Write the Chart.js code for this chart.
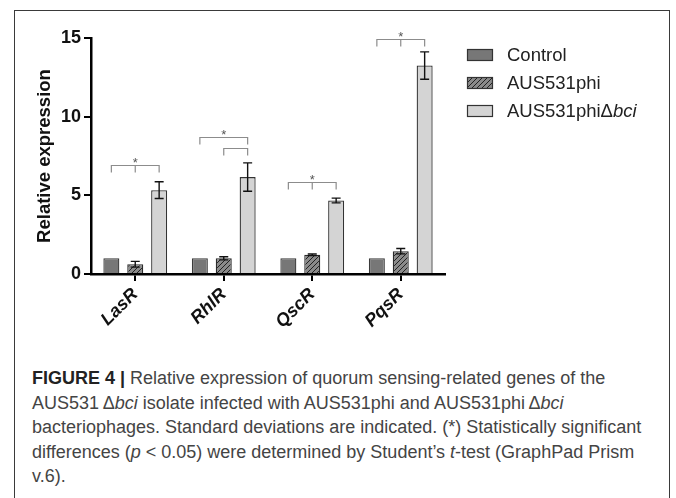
<!DOCTYPE html>
<html>
<head>
<meta charset="utf-8">
<script src="https://cdn.jsdelivr.net/npm/chart.js@4"></script>
<style>
  html, body { margin: 0; padding: 0; background: #fff; }
  body { width: 676px; height: 498px; position: relative; overflow: hidden; }
  #frame { position: absolute; left: 14px; top: 10px; width: 656px; height: 520px;
           border: 1.5px solid #3a3a3a; box-sizing: border-box; }
  #chart { position: absolute; left: 0; top: 0; }
  #caption { position: absolute; left: 32px; top: 366px; width: 640px;
             font-family: "Liberation Sans", Arial, sans-serif; font-size: 18px;
             line-height: 24.5px; color: #444; white-space: nowrap; }
  #caption b { color: #222; }
</style>
</head>
<body>
<div id="frame"></div>
<canvas id="chart" width="676" height="345"></canvas>
<div id="caption">
  <b>FIGURE 4 |</b> Relative expression of quorum sensing-related genes of the<br>
  AUS531&#8201;&Delta;<i>bci</i> isolate infected with AUS531phi and AUS531phi&#8201;&Delta;<i>bci</i><br>
  bacteriophages. Standard deviations are indicated. (*) Statistically significant<br>
  differences (<i>p</i> &lt; 0.05) were determined by Student’s <i>t</i>-test (GraphPad Prism<br>
  v.6).
</div>
<script>
// Données
const categories = ['LasR', 'RhlR', 'QscR', 'PqsR'];
const seriesNames = ['Control', 'AUS531phi', 'AUS531phi\u0394'];
const seriesItalic = ['', '', 'bci'];
const controlValues = [1, 1, 1, 1];
const controlSd = [0, 0, 0, 0];
const phiValues = [0.62, 1.0, 1.22, 1.45];
const phiSd = [0.18, 0.1, 0.05, 0.17];
const bciValues = [5.33, 6.16, 4.67, 13.25];
const bciSd = [0.53, 0.9, 0.15, 0.87];
const yTicks = [0, 5, 10, 15];

// Crochets de significativité : catégorie, série de départ, série d'arrivée, niveau
const bracketCats = [0, 1, 1, 2, 3];
const bracketFrom = [0, 0, 1, 0, 0];
const bracketTo = [2, 2, 2, 2, 2];
const bracketLevel = [6.95, 8.7, 8.04, 5.84, 14.95];
const bracketMid = [true, false, false, true, true];
const bracketStar = [true, true, false, true, true];

// Motif hachuré pour AUS531phi
function makeHatch() {
    const c = document.createElement('canvas');
    c.width = 5; c.height = 5;
    const g = c.getContext('2d');
    g.fillStyle = '#8a8a8a';
    g.fillRect(0, 0, 5, 5);
    g.strokeStyle = '#222';
    g.lineWidth = 1;
    g.beginPath();
    g.moveTo(0, 5); g.lineTo(5, 0);
    g.moveTo(-1, 1); g.lineTo(1, -1);
    g.moveTo(4, 6); g.lineTo(6, 4);
    g.stroke();
    return g.createPattern(c, 'repeat');
}

const sdList = [controlSd, phiSd, bciSd];

// Barres d'erreur
const errorBars = {
    id: 'errorBars',
    afterDatasetsDraw(chart) {
        const ctx = chart.ctx;
        const y = chart.scales.y;
        ctx.save();
        ctx.strokeStyle = '#111';
        ctx.lineWidth = 1.4;
        chart.data.datasets.forEach((ds, i) => {
            const meta = chart.getDatasetMeta(i);
            meta.data.forEach((bar, j) => {
                const sd = sdList[i][j];
                if (!sd) return;
                const v = ds.data[j];
                const top = y.getPixelForValue(v + sd);
                const bot = y.getPixelForValue(v - sd);
                const half = 4.5;
                ctx.beginPath();
                ctx.moveTo(bar.x, top); ctx.lineTo(bar.x, bot);
                ctx.moveTo(bar.x - half, top); ctx.lineTo(bar.x + half, top);
                ctx.moveTo(bar.x - half, bot); ctx.lineTo(bar.x + half, bot);
                ctx.stroke();
            });
        });
        ctx.restore();
    }
};

// Crochets + étoiles
const sigBrackets = {
    id: 'sigBrackets',
    afterDraw(chart) {
        const ctx = chart.ctx;
        const y = chart.scales.y;
        ctx.save();
        ctx.strokeStyle = '#8c8c8c';
        ctx.lineWidth = 1.2;
        ctx.fillStyle = '#555';
        ctx.font = '13px "Liberation Sans", Arial, sans-serif';
        ctx.textAlign = 'center';
        ctx.textBaseline = 'alphabetic';
        bracketCats.forEach((cat, k) => {
            const x1 = chart.getDatasetMeta(bracketFrom[k]).data[cat].x;
            const x2 = chart.getDatasetMeta(bracketTo[k]).data[cat].x;
            const yy = Math.round(y.getPixelForValue(bracketLevel[k])) + 0.5;
            const drop = 7;
            ctx.beginPath();
            ctx.moveTo(x1, yy + drop); ctx.lineTo(x1, yy);
            ctx.lineTo(x2, yy); ctx.lineTo(x2, yy + drop);
            if (bracketMid[k]) {
                const xm = (x1 + x2) / 2;
                ctx.moveTo(xm, yy); ctx.lineTo(xm, yy + drop);
            }
            ctx.stroke();
            if (bracketStar[k]) {
                ctx.fillText('*', (x1 + x2) / 2, yy + 1);
            }
        });
        ctx.restore();
    }
};

// Légende personnalisée
const sideLegend = {
    id: 'sideLegend',
    afterDraw(chart) {
        const ctx = chart.ctx;
        ctx.save();
        chart.data.datasets.forEach((ds, i) => {
            const bx = 467, by = 49 + i * 28;
            ctx.fillStyle = ds.backgroundColor;
            ctx.fillRect(bx, by, 26, 12);
            ctx.strokeStyle = '#333';
            ctx.lineWidth = 1.2;
            ctx.strokeRect(bx + 0.5, by + 0.5, 25, 11);
            ctx.fillStyle = '#222';
            ctx.textBaseline = 'middle';
            ctx.textAlign = 'left';
            ctx.font = '18.5px "Liberation Sans", Arial, sans-serif';
            ctx.fillText(seriesNames[i], 507, by + 6.5);
            if (seriesItalic[i]) {
                const w = ctx.measureText(seriesNames[i]).width;
                ctx.font = 'italic 18.5px "Liberation Sans", Arial, sans-serif';
                ctx.fillText(seriesItalic[i], 507 + w, by + 6.5);
            }
        });
        ctx.restore();
    }
};

const hatch = makeHatch();

new Chart(document.getElementById('chart').getContext('2d'), {
    type: 'bar',
    data: {
        labels: categories,
        datasets: [
            { label: seriesNames[0], data: controlValues, backgroundColor: '#777777',
              borderColor: '#3a3a3a', borderWidth: 1.3 },
            { label: seriesNames[1], data: phiValues, backgroundColor: hatch,
              borderColor: '#2a2a2a', borderWidth: 1.3 },
            { label: seriesNames[2] + seriesItalic[2], data: bciValues, backgroundColor: '#d4d4d4',
              borderColor: '#333', borderWidth: 1.3 }
        ]
    },
    options: {
        responsive: false,
        animation: false,
        categoryPercentage: 0.81,
        barPercentage: 0.67,
        layout: { padding: { left: 34, right: 231, top: 38, bottom: 0 } },
        plugins: {
            legend: { display: false },
            tooltip: { enabled: false }
        },
        scales: {
            x: {
                afterFit: (s) => { s.height = 71; },
                grid: { display: true, drawOnChartArea: false, offset: false,
                        tickLength: 7, color: '#000', lineWidth: 2 },
                border: { display: true, color: '#000', width: 2.5 },
                ticks: {
                    minRotation: 45, maxRotation: 45, padding: 3, color: '#111',
                    font: { family: '"Liberation Sans", Arial, sans-serif', size: 18,
                            weight: 'bold', style: 'italic' }
                }
            },
            y: {
                min: 0, max: 15,
                afterFit: (s) => { s.width = 57; },
                afterBuildTicks: (s) => { s.ticks = yTicks.map(v => ({ value: v })); },
                grid: { display: true, drawOnChartArea: false, tickLength: 7,
                        color: '#000', lineWidth: 2 },
                border: { display: true, color: '#000', width: 2.5 },
                ticks: {
                    padding: 3, color: '#111',
                    font: { family: '"Liberation Sans", Arial, sans-serif', size: 18, weight: 'bold' }
                },
                title: {
                    display: true, text: 'Relative expression', color: '#111',
                    padding: { top: 0, bottom: 0 },
                    font: { family: '"Liberation Sans", Arial, sans-serif', size: 18.5, weight: 'bold' }
                }
            }
        }
    },
    plugins: [errorBars, sigBrackets, sideLegend]
});
</script>
</body>
</html>
